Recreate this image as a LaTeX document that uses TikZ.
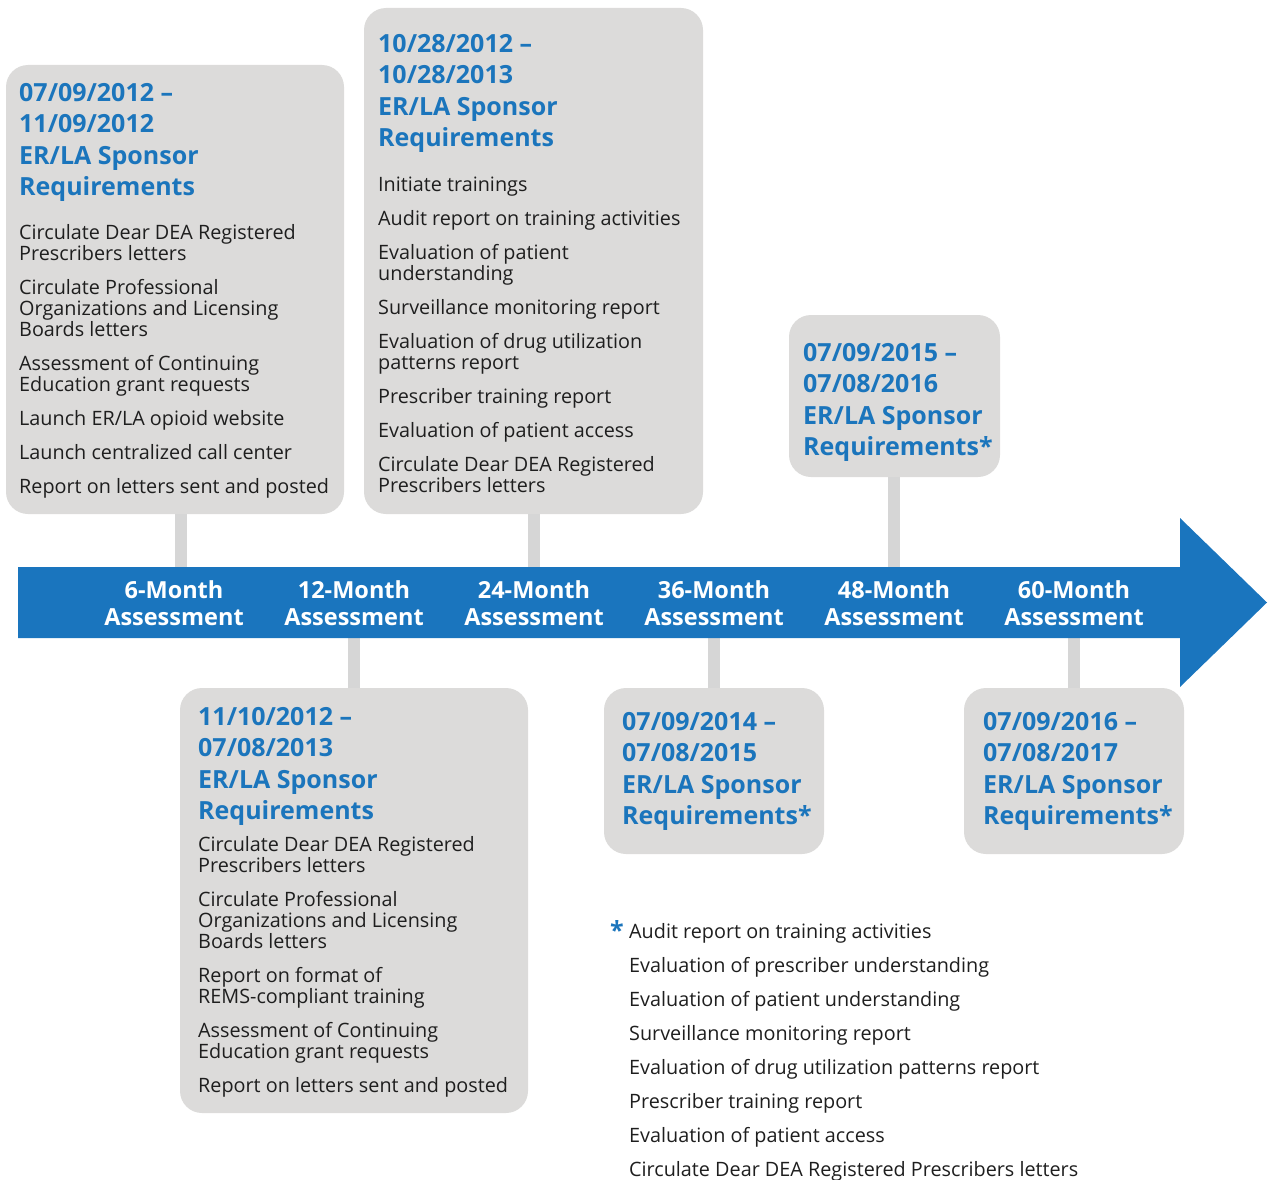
\documentclass[tikz,border=0pt]{standalone}
\usepackage{fontspec}
\setmainfont{Open Sans}
\usetikzlibrary{calc}
\definecolor{barblue}{RGB}{26,117,190}
\definecolor{headblue}{RGB}{27,117,188}
\definecolor{boxgray}{RGB}{220,219,218}
\definecolor{stemgray}{RGB}{214,214,214}
\definecolor{bodyblack}{RGB}{30,30,30}
\tikzset{
	box/.style={fill=boxgray, rounded corners=22pt, inner sep=0pt, outer sep=0pt},
	stem/.style={draw=stemgray, line width=12pt},
	head/.style={anchor=base west, align=left, inner sep=0pt, text=headblue, font=\fontsize{25}{31.3}\selectfont\bfseries},
	body/.style={anchor=base west, align=left, inner sep=0pt, text=bodyblack, font=\fontsize{19.8}{21}\selectfont},
	lbl/.style={align=center, inner sep=0pt, text=white, font=\fontsize{23.5}{27}\selectfont\bfseries}
}

\begin{document}
\begin{tikzpicture}[x=1pt, y=-1pt]
			%%%%% START %%%%%
			\useasboundingbox (0, 0) rectangle (1272, 1180);
			
			\coordinate (t6) at (181, 567);
			\coordinate (t24) at (534, 567);
			\coordinate (t48) at (894, 567);
			\coordinate (b12) at (354, 638);
			\coordinate (b36) at (714, 638);
			\coordinate (b60) at (1074, 638);
			
			\node[box, minimum width=338pt, minimum height=449pt] (boxA) at (175, 289.5) {};
			\node[box, minimum width=339pt, minimum height=506pt] (boxB) at (533.5, 261) {};
			\node[box, minimum width=211pt, minimum height=162pt] (boxC) at (894.5, 396) {};
			\node[box, minimum width=348pt, minimum height=425pt] (boxD) at (354, 900.5) {};
			\node[box, minimum width=220pt, minimum height=166pt] (boxE) at (714, 771) {};
			\node[box, minimum width=220pt, minimum height=166pt] (boxF) at (1074, 771) {};
			
			\draw[stem] (boxA.south -| t6) -- (t6);
			\draw[stem] (boxB.south -| t24) -- (t24);
			\draw[stem] (boxC.south -| t48) -- (t48);
			\draw[stem] (boxD.north -| b12) -- (b12);
			\draw[stem] (boxE.north -| b36) -- (b36);
			\draw[stem] (boxF.north -| b60) -- (b60);
			
			% timeline arrow
			\fill[barblue] (18, 567) -- (1180, 567) -- (1180, 518) -- (1267, 602.5) -- (1180, 687) -- (1180, 638) -- (18, 638) -- cycle;
			
			\node[lbl] (m6) at (174, 603) {6-Month\\Assessment};
			\node[lbl] (m12) at (354, 603) {12-Month\\Assessment};
			\node[lbl] (m24) at (534, 603) {24-Month\\Assessment};
			\node[lbl] (m36) at (714, 603) {36-Month\\Assessment};
			\node[lbl] (m48) at (894, 603) {48-Month\\Assessment};
			\node[lbl] (m60) at (1074, 603) {60-Month\\Assessment};
			
			% box texts (placed by the baseline of their last line)
			\node[head] (headA) at (19, 195.4) {07/09/2012 --\\11/09/2012\\ER/LA Sponsor\\Requirements};
			\node[body] (listA) at (19, 493) {Circulate Dear DEA Registered\\Prescribers letters\\[13pt]
				Circulate Professional\\Organizations and Licensing\\Boards letters\\[13pt]
				Assessment of Continuing\\Education grant requests\\[13pt]
				Launch ER/LA opioid website\\[13pt]
				Launch centralized call center\\[13pt]
				Report on letters sent and posted};
			
			\node[head] (headB) at (378, 146.4) {10/28/2012 --\\10/28/2013\\ER/LA Sponsor\\Requirements};
			\node[body] (listB) at (378, 492) {Initiate trainings\\[13pt]
				Audit report on training activities\\[13pt]
				Evaluation of patient\\understanding\\[13pt]
				Surveillance monitoring report\\[13pt]
				Evaluation of drug utilization\\patterns report\\[13pt]
				Prescriber training report\\[13pt]
				Evaluation of patient access\\[13pt]
				Circulate Dear DEA Registered\\Prescribers letters};
			
			\node[head] (headC) at (803, 455.4) {07/09/2015 --\\07/08/2016\\ER/LA Sponsor\\Requirements*};
			
			\node[head] (headD) at (198, 819.4) {11/10/2012 --\\07/08/2013\\ER/LA Sponsor\\Requirements};
			\node[body] (listD) at (198, 1092) {Circulate Dear DEA Registered\\Prescribers letters\\[13pt]
				Circulate Professional\\Organizations and Licensing\\Boards letters\\[13pt]
				Report on format of\\REMS-compliant training\\[13pt]
				Assessment of Continuing\\Education grant requests\\[13pt]
				Report on letters sent and posted};
			
			\node[head] (headE) at (622, 824.4) {07/09/2014 --\\07/08/2015\\ER/LA Sponsor\\Requirements*};
			\node[head] (headF) at (983, 824.4) {07/09/2016 --\\07/08/2017\\ER/LA Sponsor\\Requirements*};
			
			% footnote
			\node[head, anchor=base east] (star) at (624, 939) {*};
			\node[body] (notes) at (629, 1176) {Audit report on training activities\\[13pt]
				Evaluation of prescriber understanding\\[13pt]
				Evaluation of patient understanding\\[13pt]
				Surveillance monitoring report\\[13pt]
				Evaluation of drug utilization patterns report\\[13pt]
				Prescriber training report\\[13pt]
				Evaluation of patient access\\[13pt]
				Circulate Dear DEA Registered Prescribers letters};
			
			%%%%% END %%%%%
\end{tikzpicture}
\end{document}
